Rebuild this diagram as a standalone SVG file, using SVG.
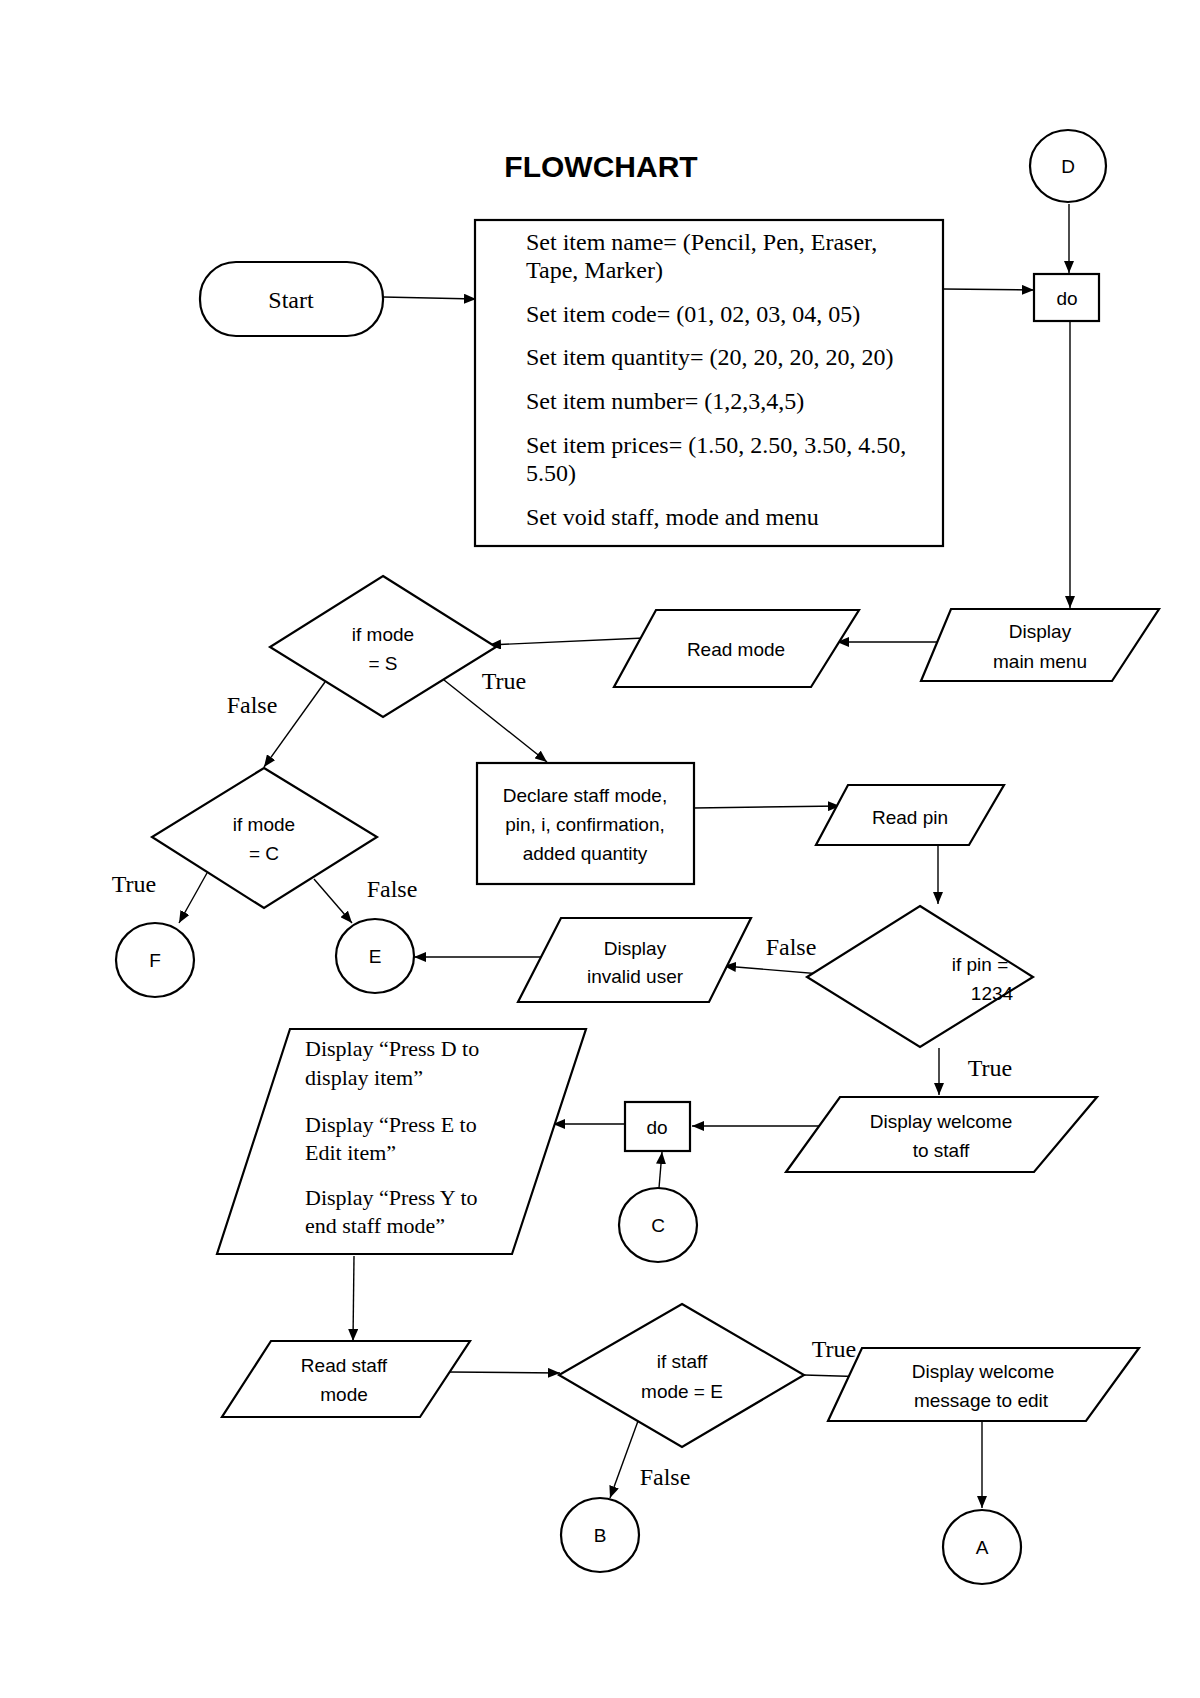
<svg xmlns="http://www.w3.org/2000/svg" width="1200" height="1698" viewBox="0 0 1200 1698">
<defs>
<marker id="arr" markerUnits="userSpaceOnUse" markerWidth="12" markerHeight="10" refX="12" refY="5" orient="auto">
<path d="M0,0 L12,5 L0,10 z" fill="#000"/>
</marker>
<style>
.s{fill:#fff;stroke:#000;stroke-width:2.2}
.c{fill:none;stroke:#000;stroke-width:1.4;marker-end:url(#arr)}
.sans{font-family:"Liberation Sans",Arial,sans-serif;font-size:19px;fill:#000;text-anchor:middle}
.ser{font-family:"Liberation Serif","Times New Roman",serif;font-size:24px;fill:#000}
.lbl{font-family:"Liberation Serif","Times New Roman",serif;font-size:24px;fill:#000;text-anchor:middle}
.title{font-family:"Liberation Sans",Arial,sans-serif;font-size:30px;font-weight:bold;fill:#000;text-anchor:middle}
</style>
</defs>
<rect width="1200" height="1698" fill="#fff"/>
<text class="title" x="601" y="177">FLOWCHART</text>

<g id="connectors">
<line class="c" x1="1069" y1="204" x2="1069" y2="273"/>
<line class="c" x1="383" y1="297" x2="476" y2="299"/>
<line class="c" x1="943" y1="289" x2="1034" y2="290"/>
<line class="c" x1="1070" y1="321" x2="1070" y2="608"/>
<line class="c" x1="950" y1="642" x2="837" y2="642"/>
<line class="c" x1="644" y1="638" x2="489" y2="645"/>
<line class="c" x1="444" y1="680" x2="547" y2="762"/>
<line class="c" x1="325" y1="682" x2="264" y2="767"/>
<line class="c" x1="207" y1="873" x2="179" y2="923"/>
<line class="c" x1="314" y1="879" x2="352" y2="923"/>
<line class="c" x1="694" y1="808" x2="840" y2="806"/>
<line class="c" x1="938" y1="846" x2="938" y2="904"/>
<line class="c" x1="833" y1="975" x2="724" y2="966"/>
<line class="c" x1="541" y1="957" x2="414" y2="957"/>
<line class="c" x1="939" y1="1048" x2="939" y2="1095"/>
<line class="c" x1="824" y1="1126" x2="692" y2="1126"/>
<line class="c" x1="659" y1="1188" x2="662" y2="1152"/>
<line class="c" x1="625" y1="1124" x2="553" y2="1124"/>
<line class="c" x1="354" y1="1256" x2="353" y2="1341"/>
<line class="c" x1="449" y1="1372" x2="560" y2="1373"/>
<line class="c" x1="804" y1="1375" x2="872" y2="1377"/>
<line class="c" x1="982" y1="1421" x2="982" y2="1508"/>
<line class="c" x1="638" y1="1421" x2="610" y2="1498"/>
</g>

<g id="labels">
<text class="lbl" x="504" y="689">True</text>
<text class="lbl" x="252" y="713">False</text>
<text class="lbl" x="134" y="892">True</text>
<text class="lbl" x="392" y="897">False</text>
<text class="lbl" x="791" y="955">False</text>
<text class="lbl" x="990" y="1076">True</text>
<text class="lbl" x="834" y="1357">True</text>
<text class="lbl" x="665" y="1485">False</text>
</g>

<g id="node-D">
<ellipse class="s" cx="1068" cy="166" rx="38" ry="36"/>
<text class="sans" x="1068" y="173">D</text>
</g>
<g id="node-do1">
<rect class="s" x="1034" y="274" width="65" height="47"/>
<text class="sans" x="1067" y="305">do</text>
</g>
<g id="node-start">
<rect class="s" x="200" y="262" width="183" height="74" rx="36" ry="36"/>
<text class="lbl" x="291" y="308">Start</text>
</g>
<g id="node-init">
<rect class="s" x="475" y="220" width="468" height="326"/>
<text class="ser" x="526" y="250">Set item name= (Pencil, Pen, Eraser,</text>
<text class="ser" x="526" y="278">Tape, Marker)</text>
<text class="ser" x="526" y="322">Set item code= (01, 02, 03, 04, 05)</text>
<text class="ser" x="526" y="365">Set item quantity= (20, 20, 20, 20, 20)</text>
<text class="ser" x="526" y="409">Set item number= (1,2,3,4,5)</text>
<text class="ser" x="526" y="453">Set item prices= (1.50, 2.50, 3.50, 4.50,</text>
<text class="ser" x="526" y="481">5.50)</text>
<text class="ser" x="526" y="525">Set void staff, mode and menu</text>
</g>
<g id="node-mainmenu">
<polygon class="s" points="951,609 1159,609 1112,681 921,681"/>
<text class="sans" x="1040" y="638">Display</text>
<text class="sans" x="1040" y="668">main menu</text>
</g>
<g id="node-readmode">
<polygon class="s" points="656,610 859,610 811,687 614,687"/>
<text class="sans" x="736" y="656">Read mode</text>
</g>
<g id="node-ifS">
<polygon class="s" points="383,576 496,647 383,717 270,647"/>
<text class="sans" x="383" y="641">if mode</text>
<text class="sans" x="383" y="670">= S</text>
</g>
<g id="node-ifC">
<polygon class="s" points="264,768 377,837 264,908 152,837"/>
<text class="sans" x="264" y="831">if mode</text>
<text class="sans" x="264" y="860">= C</text>
</g>
<g id="node-F">
<ellipse class="s" cx="155" cy="960" rx="39" ry="37"/>
<text class="sans" x="155" y="967">F</text>
</g>
<g id="node-E">
<ellipse class="s" cx="375" cy="956" rx="39" ry="37"/>
<text class="sans" x="375" y="963">E</text>
</g>
<g id="node-declare">
<rect class="s" x="477" y="763" width="217" height="121"/>
<text class="sans" x="585" y="802">Declare staff mode,</text>
<text class="sans" x="585" y="831">pin, i, confirmation,</text>
<text class="sans" x="585" y="860">added quantity</text>
</g>
<g id="node-readpin">
<polygon class="s" points="848,785 1004,785 969,845 816,845"/>
<text class="sans" x="910" y="824">Read pin</text>
</g>
<g id="node-ifpin">
<polygon class="s" points="920,906 1033,977 920,1047 807,977"/>
<text class="sans" x="980" y="971">if pin =</text>
<text class="sans" x="992" y="1000">1234</text>
</g>
<g id="node-invalid">
<polygon class="s" points="561,918 751,918 709,1002 518,1002"/>
<text class="sans" x="635" y="955">Display</text>
<text class="sans" x="635" y="983">invalid user</text>
</g>
<g id="node-welcome">
<polygon class="s" points="840,1097 1097,1097 1034,1172 786,1172"/>
<text class="sans" x="941" y="1128">Display welcome</text>
<text class="sans" x="941" y="1157">to staff</text>
</g>
<g id="node-do2">
<rect class="s" x="625" y="1102" width="65" height="49"/>
<text class="sans" x="657" y="1134">do</text>
</g>
<g id="node-C">
<ellipse class="s" cx="658" cy="1225" rx="39" ry="37"/>
<text class="sans" x="658" y="1232">C</text>
</g>
<g id="node-staffmenu">
<polygon class="s" points="290,1029 586,1029 512,1254 217,1254"/>
<text class="ser" x="305" y="1056" style="font-size:22px">Display “Press D to</text>
<text class="ser" x="305" y="1085" style="font-size:22px">display item”</text>
<text class="ser" x="305" y="1132" style="font-size:22px">Display “Press E to</text>
<text class="ser" x="305" y="1160" style="font-size:22px">Edit item”</text>
<text class="ser" x="305" y="1205" style="font-size:22px">Display “Press Y to</text>
<text class="ser" x="305" y="1233" style="font-size:22px">end staff mode”</text>
</g>
<g id="node-readstaff">
<polygon class="s" points="271,1341 470,1341 420,1417 222,1417"/>
<text class="sans" x="344" y="1372">Read staff</text>
<text class="sans" x="344" y="1401">mode</text>
</g>
<g id="node-ifstaff">
<polygon class="s" points="682,1304 804,1375 682,1447 559,1375"/>
<text class="sans" x="682" y="1368">if staff</text>
<text class="sans" x="682" y="1398">mode = E</text>
</g>
<g id="node-editmsg">
<polygon class="s" points="862,1348 1139,1348 1086,1421 828,1421"/>
<text class="sans" x="983" y="1378">Display welcome</text>
<text class="sans" x="981" y="1407">message to edit</text>
</g>
<g id="node-B">
<ellipse class="s" cx="600" cy="1535" rx="39" ry="37"/>
<text class="sans" x="600" y="1542">B</text>
</g>
<g id="node-A">
<ellipse class="s" cx="982" cy="1547" rx="39" ry="37"/>
<text class="sans" x="982" y="1554">A</text>
</g>
</svg>
